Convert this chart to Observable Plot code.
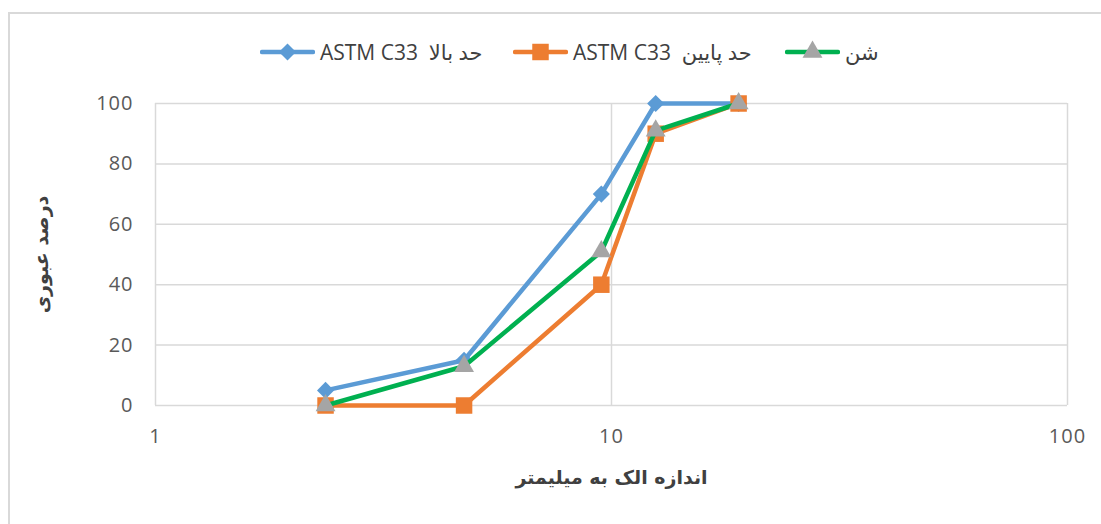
<!DOCTYPE html>
<html>
<head>
<meta charset="utf-8">
<script src="https://cdn.jsdelivr.net/npm/d3@7"></script>
<script src="https://cdn.jsdelivr.net/npm/@observablehq/plot@0.6"></script>
<style>
  html, body { margin: 0; padding: 0; background: #fff; overflow: hidden; width: 1101px; height: 524px; }
  #frame { position: absolute; left: 8px; top: 12px; width: 1300px; height: 700px; border-left: 2px solid #d9d9d9; border-top: 2px solid #d9d9d9; box-sizing: border-box; }
  #wrap { position: relative; width: 1101px; height: 524px; }
  #legend { position: relative; height: 80px; width: 1101px; font-family: "Open Sans", "DejaVu Sans", sans-serif; font-size: 21px; color: #404040; }
  .item { position: absolute; top: 38px; height: 28px; display: flex; align-items: center; direction: ltr; white-space: pre; }
  .item svg { margin-right: 5px; }
  #chart svg text { letter-spacing: 1px; }
</style>
</head>
<body>
<div id="frame"></div>
<div id="wrap">
  <div id="legend"></div>
  <div id="chart"></div>
</div>
<script>
// Data
const sieveSizes = [2.36, 4.75, 9.5, 12.5, 19];
const upperLimit = [5, 15, 70, 100, 100];
const lowerLimit = [0, 0, 40, 90, 100];
const sand = [0, 13, 51, 91, 100];
const seriesNames = ["ASTM C33  حد بالا", "ASTM C33  حد پایین", "شن"];
const xTicks = [1, 10, 100];
const yTicks = [0, 20, 40, 60, 80, 100];
const xTitle = "اندازه الک به میلیمتر";
const yTitle = "درصد عبوری";

const lineColors = ["#5b9bd5", "#ed7d31", "#00b050"];
const markerColors = ["#5b9bd5", "#ed7d31", "#a5a5a5"];
const symbols = ["diamond2", "square", "triangle"];
const markerR = [7.7, 9.3, 7.4];

const seriesValues = [upperLimit, lowerLimit, sand];
const rows = seriesValues.map((vals, s) => sieveSizes.map((x, i) => ({x, y: vals[i], s})));

// Legend
const legend = document.getElementById("legend");
const legendLefts = [260, 513, 785];
const symMap = {diamond2: d3.symbolDiamond2, square: d3.symbolSquare, triangle: d3.symbolTriangle};
seriesNames.forEach((name, s) => {
  const item = document.createElement("div");
  item.className = "item";
  item.style.left = legendLefts[s] + "px";
  const w = 55, h = 28;
  const sw = d3.create("svg").attr("width", w).attr("height", h);
  sw.append("line").attr("x1", 2).attr("x2", w - 2).attr("y1", h / 2).attr("y2", h / 2)
    .attr("stroke", lineColors[s]).attr("stroke-width", 4.5).attr("stroke-linecap", "round");
  sw.append("path").attr("transform", `translate(${w / 2},${h / 2})`)
    .attr("d", d3.symbol(symMap[symbols[s]], Math.PI * markerR[s] * markerR[s])())
    .attr("fill", markerColors[s]);
  item.appendChild(sw.node());
  const span = document.createElement("span");
  span.textContent = name;
  item.appendChild(span);
  legend.appendChild(item);
});

// Chart
const marks = [
  Plot.gridY(yTicks, {stroke: "#d9d9d9", strokeOpacity: 1, strokeWidth: 1.5}),
  Plot.gridX(xTicks, {stroke: "#d9d9d9", strokeOpacity: 1, strokeWidth: 1.5}),
  Plot.axisY(yTicks, {tickSize: 0, tickPadding: 22, fontSize: 20, fill: "#595959", label: null}),
  Plot.axisX(xTicks, {tickSize: 0, tickPadding: 23, fontSize: 20, fill: "#595959", label: null, tickFormat: d => String(d)}),
  Plot.text([yTitle], {frameAnchor: "left", dx: -114, rotate: -90, text: d => d, fontSize: 19, fontWeight: "bold", fill: "#404040", textAnchor: "middle", lineAnchor: "middle", fontFamily: "DejaVu Sans"}),
  Plot.text([xTitle], {frameAnchor: "bottom", dy: 72, text: d => d, fontSize: 19, fontWeight: "bold", fill: "#404040", textAnchor: "middle", lineAnchor: "middle", fontFamily: "DejaVu Sans"})
];
rows.forEach((data, s) => {
  marks.push(Plot.line(data, {x: "x", y: "y", stroke: lineColors[s], strokeWidth: 4.5, strokeLinejoin: "round", strokeLinecap: "round"}));
  marks.push(Plot.dot(data, {x: "x", y: "y", symbol: () => symbols[s], r: markerR[s], fill: markerColors[s], stroke: "none"}));
});

const chart = Plot.plot({
  width: 1101,
  height: 444,
  marginTop: 23,
  marginBottom: 119,
  marginLeft: 155,
  marginRight: 34,
  style: {fontFamily: "'Open Sans', 'DejaVu Sans', sans-serif", background: "transparent", overflow: "visible"},
  x: {type: "log", domain: [1, 100], axis: null},
  y: {domain: [0, 100], axis: null},
  symbol: {type: "identity"},
  marks
});
document.getElementById("chart").appendChild(chart);
</script>
</body>
</html>
